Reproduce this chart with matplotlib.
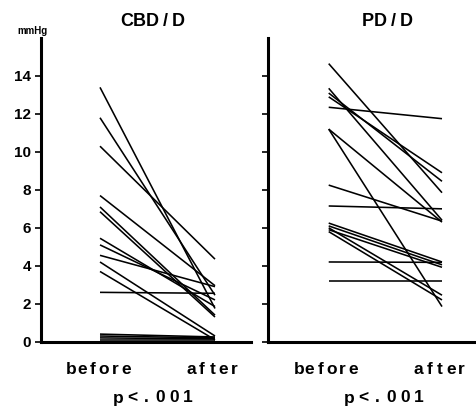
import matplotlib
matplotlib.use("Agg")
import matplotlib.pyplot as plt

# Pressure (mmHg) before and after, one pair per patient
cbd_before = [13.4, 11.8, 10.3, 7.7, 7.1, 6.85, 5.45, 5.1, 4.55, 4.2, 3.7, 2.6, 0.4, 0.3, 0.2, 0.1]
cbd_after = [1.75, 2.45, 4.35, 2.95, 1.4, 1.3, 1.85, 2.2, 2.9, 0.3, 0.1, 2.55, 0.25, 0.2, 0.15, 0.1]

pd_before = [14.65, 13.35, 13.1, 12.9, 12.35, 11.2, 11.2, 8.25, 7.15, 6.25, 6.1, 6.0, 5.9, 5.8, 4.2, 3.2]
pd_after = [7.85, 6.4, 8.45, 8.9, 11.75, 1.85, 6.3, 6.35, 7.0, 4.2, 4.05, 2.45, 3.92, 2.2, 4.18, 3.2]

titles = ["CBD/D", "PD/D"]
x_labels = ["before", "after"]
p_text = "p<.001"
y_ticks = [0, 2, 4, 6, 8, 10, 12, 14]

W, H = 476, 409
fig = plt.figure(figsize=(W / 100, H / 100), dpi=100)
fig.patch.set_facecolor("white")

font = dict(family=["Liberation Sans", "DejaVu Sans"], weight="bold")


def px(x, y):
    return x / W, 1 - y / H


def spaced(xc, y, text, pitch, size):
    """Draw text letter by letter with a fixed pitch (wide tracking)."""
    n = len(text)
    start = xc - pitch * (n - 1) / 2
    for k, ch in enumerate(text):
        fig.text(*px(start + k * pitch, y), ch, ha="center", va="center",
                 fontsize=size, **font)


y0 = 341.7
y_top = 38.0
ax_h = (y0 - y_top) / H
ax_b = (H - y0) / H

panels = [
    dict(left=41, right=251, before_px=100, after_px=215, data=(cbd_before, cbd_after),
         title_x=152.5, lab_x=(98.5, 212.5), p_x=153),
    dict(left=268, right=475, before_px=328.7, after_px=442, data=(pd_before, pd_after),
         title_x=387, lab_x=(326, 440), p_x=384),
]

for i, p in enumerate(panels):
    ax = fig.add_axes([p["left"] / W, ax_b, (p["right"] - p["left"]) / W, ax_h])
    unit = p["after_px"] - p["before_px"]
    ax.set_xlim((p["left"] - p["before_px"]) / unit, (p["right"] - p["before_px"]) / unit)
    ax.set_ylim(0, 16)
    b, a = p["data"]
    for vb, va in zip(b, a):
        ax.plot([0, 1], [vb, va], color="black", lw=1.15, solid_capstyle="butt")
    for s in ("top", "right"):
        ax.spines[s].set_visible(False)
    for s in ("left", "bottom"):
        ax.spines[s].set_linewidth(2.2)
    ax.set_xticks([])
    ax.set_yticks(y_ticks)
    ax.tick_params(axis="y", length=4, width=1.2, direction="out", pad=3)
    if i == 0:
        ax.set_yticklabels([str(t) for t in y_ticks], fontsize=11, **font)
    else:
        ax.set_yticklabels([])

    spaced(p["title_x"], 22, titles[i], 12.8, 13)
    spaced(p["lab_x"][0], 370, x_labels[0], 10.9, 12.5)
    spaced(p["lab_x"][1], 370, x_labels[1], 10.8, 12.5)
    spaced(p["p_x"], 398, p_text, 13.8, 12.5)

fig.text(*px(32, 31), "mmHg", ha="center", va="center", fontsize=7, **font)

fig.savefig("out.png", dpi=100, facecolor="white")
